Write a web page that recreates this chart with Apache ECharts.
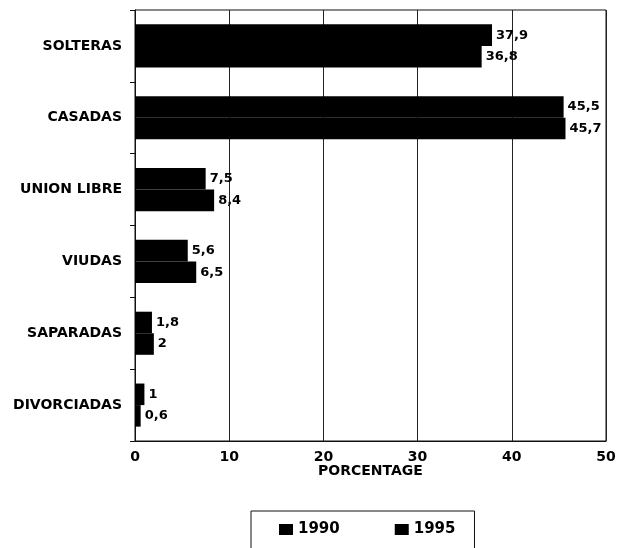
<!DOCTYPE html>
<html><head><meta charset="utf-8">
<script src="https://cdn.jsdelivr.net/npm/echarts@6/dist/echarts.min.js"></script>
<style>html,body{margin:0;padding:0;background:#fff}#c{width:617px;height:548px}</style>
</head><body><div id="c"></div>
<script>
const categories = ['SOLTERAS','CASADAS','UNION LIBRE','VIUDAS','SAPARADAS','DIVORCIADAS'];
const values1990 = [37.9, 45.5, 7.5, 5.6, 1.8, 1];
const values1995 = [36.8, 45.7, 8.4, 6.5, 2, 0.6];
const seriesNames = ['1990','1995'];
const xTicks = [0, 10, 20, 30, 40, 50];

const font = '"DejaVu Sans", Arial, sans-serif';
const chart = echarts.init(document.getElementById('c'), null, {renderer:'canvas'});
const lbl = {
  show: true, position: 'right', distance: 4,
  color: '#000', fontFamily: font, fontWeight: 'bold', fontSize: 13,
  formatter: p => String(p.value).replace('.', ',')
};
chart.setOption({
  backgroundColor: '#fff',
  animation: false,
  grid: {left: 135, right: 11, top: 10, bottom: 107, outerBoundsMode: 'none',
         show: true, borderColor: '#111', borderWidth: 1},
  legend: {
    data: seriesNames, left: 251, top: 511, icon: 'rect',
    itemWidth: 14, itemHeight: 11, itemGap: 55,
    borderColor: '#111', borderWidth: 1,
    padding: [11, 19, 30, 28],
    textStyle: {color: '#000', fontFamily: font, fontWeight: 'bold', fontSize: 15}
  },
  xAxis: {
    type: 'value', min: xTicks[0], max: xTicks[xTicks.length-1], interval: 10,
    name: 'PORCENTAGE', nameLocation: 'middle', nameGap: 23, nameMoveOverlap: false,
    nameTextStyle: {color: '#000', fontFamily: font, fontWeight: 'bold', fontSize: 14},
    axisLine: {show: true, lineStyle: {color: '#111'}},
    axisTick: {show: false},
    axisLabel: {color: '#000', fontFamily: font, fontWeight: 'bold', fontSize: 14, margin: 9},
    splitLine: {show: true, lineStyle: {color: '#222', width: 1}}
  },
  yAxis: {
    type: 'category', data: categories, inverse: true,
    axisLine: {show: true, lineStyle: {color: '#111'}},
    axisTick: {show: true, length: 5, lineStyle: {color: '#111'}},
    axisLabel: {color: '#000', fontFamily: font, fontWeight: 'bold', fontSize: 14, margin: 13}
  },
  series: [
    {name: seriesNames[0], type: 'bar', data: values1990, itemStyle: {color: '#000'},
     barGap: '0%', barCategoryGap: '40%', label: lbl},
    {name: seriesNames[1], type: 'bar', data: values1995, itemStyle: {color: '#000'},
     barGap: '0%', barCategoryGap: '40%', label: lbl}
  ]
});
</script></body></html>
